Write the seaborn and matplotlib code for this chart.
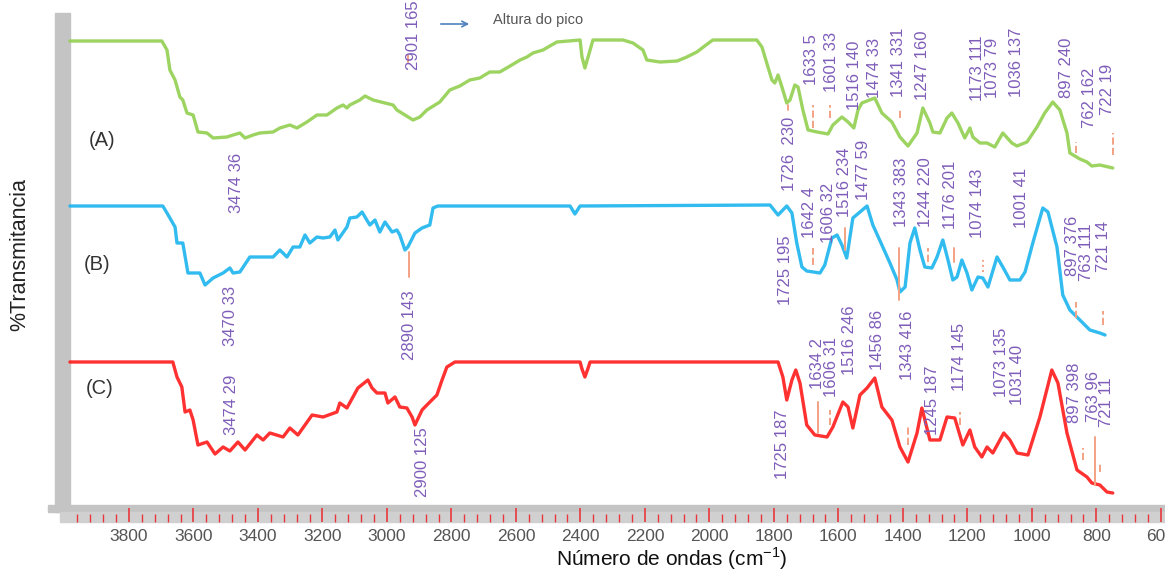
import matplotlib
matplotlib.use("Agg")
import matplotlib.pyplot as plt
import seaborn as sns
import pandas as pd
from matplotlib.patches import Rectangle, FancyArrowPatch
from matplotlib.ticker import MultipleLocator, FuncFormatter

# ---------------- data (wavenumber cm-1, relative transmittance) ----------------
a_wn = [3983, 3698, 3682, 3673, 3657, 3642, 3633, 3620, 3601, 3586, 3558, 3539, 3496, 3477, 3456,
        3440, 3415, 3394, 3353, 3332, 3301, 3279, 3248, 3217, 3186, 3155, 3136, 3124, 3115, 3084,
        3068, 3043, 2981, 2969, 2929, 2919, 2898, 2876, 2836, 2805, 2774, 2743, 2712, 2681, 2650,
        2618, 2587, 2566, 2547, 2516, 2473, 2401, 2395, 2386, 2377, 2361, 2268, 2237, 2206, 2194,
        2153, 2100, 2070, 2039, 1998, 1989, 1853, 1837, 1822, 1806, 1797, 1787, 1775, 1760, 1750,
        1735, 1725, 1710, 1694, 1666, 1632, 1617, 1589, 1570, 1552, 1539, 1527, 1487, 1465, 1434,
        1409, 1384, 1356, 1338, 1316, 1307, 1285, 1263, 1248, 1229, 1208, 1192, 1183, 1161, 1139,
        1115, 1090, 1062, 1046, 1015, 984, 960, 935, 913, 891, 882, 851, 829, 814, 789, 749]
a_t = [467, 467, 458, 438, 428, 411, 408, 395, 393, 376, 375, 370, 371, 373, 375,
       370, 373, 375, 376, 380, 383, 380, 386, 393, 393, 400, 403, 400, 403, 408,
       412, 408, 403, 398, 390, 388, 391, 398, 406, 418, 422, 428, 430, 436, 436,
       442, 448, 451, 455, 458, 466, 468, 451, 440, 450, 468, 468, 465, 458, 448,
       446, 447, 451, 456, 466, 468, 468, 461, 445, 428, 425, 433, 421, 405, 408,
       423, 421, 398, 378, 376, 374, 383, 391, 386, 380, 398, 405, 410, 395, 386,
       371, 362, 375, 400, 385, 376, 375, 390, 395, 385, 370, 380, 371, 365, 365,
       361, 375, 365, 362, 366, 381, 395, 406, 398, 375, 355, 349, 346, 342, 343, 340]

b_wn = [3983, 3695, 3682, 3657, 3651, 3633, 3617, 3601, 3580, 3564, 3539, 3508, 3487, 3477, 3456,
        3425, 3394, 3353, 3332, 3310, 3291, 3270, 3254, 3239, 3217, 3198, 3177, 3161, 3152, 3124,
        3115, 3093, 3077, 3068, 3053, 3037, 3022, 3006, 2984, 2969, 2960, 2944, 2935, 2913, 2891,
        2867, 2857, 2842, 2432, 2417, 2401, 1812, 1787, 1760, 1744, 1729, 1713, 1698, 1657, 1642,
        1620, 1604, 1589, 1574, 1555, 1533, 1511, 1493, 1465, 1440, 1418, 1409, 1393, 1378, 1363,
        1347, 1332, 1310, 1294, 1276, 1260, 1245, 1232, 1217, 1201, 1186, 1167, 1152, 1136, 1108,
        1090, 1068, 1037, 1021, 997, 966, 950, 922, 904, 882, 851, 820, 789, 773]
b_t = [302, 302, 295, 281, 265, 265, 235, 235, 235, 223, 230, 235, 240, 235, 236,
       251, 251, 251, 258, 251, 261, 261, 273, 265, 271, 270, 271, 278, 268, 281,
       290, 291, 296, 291, 283, 288, 276, 286, 276, 278, 273, 258, 261, 275, 280,
       283, 300, 302, 302, 294, 302, 303, 293, 302, 295, 265, 241, 237, 235, 243,
       270, 273, 263, 250, 290, 296, 302, 283, 263, 245, 228, 216, 221, 265, 280,
       258, 241, 240, 251, 268, 248, 228, 231, 248, 235, 218, 231, 230, 221, 251,
       241, 228, 228, 236, 265, 300, 296, 261, 213, 198, 188, 178, 175, 173]

c_wn = [3983, 3664, 3651, 3636, 3626, 3611, 3601, 3586, 3558, 3533, 3508, 3487, 3462, 3440, 3403,
        3384, 3363, 3322, 3301, 3276, 3232, 3198, 3155, 3146, 3124, 3090, 3059, 3046, 3031, 3006,
        2997, 2975, 2960, 2938, 2922, 2913, 2891, 2876, 2845, 2829, 2814, 2789, 2401, 2395, 2386,
        2377, 2370, 1787, 1772, 1760, 1744, 1732, 1719, 1698, 1673, 1635, 1617, 1586, 1570, 1555,
        1533, 1511, 1487, 1465, 1434, 1409, 1384, 1356, 1341, 1316, 1285, 1263, 1239, 1214, 1192,
        1177, 1155, 1139, 1121, 1087, 1068, 1046, 1012, 975, 938, 919, 891, 860, 829, 814, 789,
        767, 749]
c_t = [146, 146, 131, 121, 96, 98, 88, 63, 66, 54, 61, 57, 66, 58, 73,
       68, 75, 71, 80, 73, 93, 91, 96, 105, 100, 120, 128, 120, 115, 115,
       105, 111, 101, 100, 91, 83, 98, 103, 113, 128, 141, 146, 146, 139, 131,
       139, 146, 146, 131, 108, 128, 138, 125, 83, 73, 71, 81, 106, 101, 80,
       113, 120, 130, 101, 88, 61, 46, 75, 100, 68, 68, 91, 90, 63, 78,
       61, 51, 61, 55, 75, 68, 55, 53, 91, 138, 125, 75, 38, 31, 25, 23,
       16, 15]

series_names = ["(A)", "(B)", "(C)"]
series_colors = ["#92D050", "#1CB4EE", "#FF1A1A"]

# peak annotations: text, wavenumber, vertical position
peak_text = ["2901 165", "1633 5", "1601 33", "1516 140", "1474 33", "1341 331", "1247 160",
             "1173 111", "1073 79", "1036 137", "897 240", "762 162", "722 19",
             "3474 36", "1726  230",
             "1642 4", "1606 32", "1516 234", "1477 59", "1343 383", "1244 220", "1176 201",
             "1074 143", "1001 41", "897 376", "763 111", "721 14",
             "3470 33", "2890 143", "1725 195",
             "3474 29", "2900 125", "1725 187", "1634 2", "1606 31", "1516 246", "1456 86",
             "1343 416", "1245 187", "1174 145", "1073 135", "1031 40", "897 398", "763 96",
             "721 11"]
peak_wn = [2916, 1682, 1620, 1549, 1487, 1415, 1338, 1170, 1121, 1046, 891, 820, 764,
           3468, 1750,
           1688, 1629, 1580, 1521, 1403, 1329, 1251, 1167, 1031, 873, 829, 777,
           3484, 2929, 1763,
           3481, 2891, 1772, 1666, 1620, 1564, 1480, 1387, 1307, 1223, 1093, 1043, 869, 810, 767]
peak_y = [473, 448, 446, 433, 440, 446, 443, 440, 440, 446, 440, 410, 419,
          325, 354,
          296, 295, 326, 338, 316, 316, 313, 305, 310, 262, 256, 262,
          192, 183, 238,
          103, 46, 64, 145, 141, 168, 168, 163, 108, 151, 146, 133, 115, 111, 106]

# peak-height markers: wavenumber, y0, y1, style
mark_wn = [2932, 1412, 1580, 1242, 1679, 1322, 1152, 863, 780,
           1663, 804, 1626, 1384, 1223, 842, 789,
           1679, 1626, 1409, 863, 749, 1756, 2935]
mark_y0 = [256, 208, 258, 246, 243, 246, 236, 190, 183,
           75, 23, 83, 63, 83, 48, 36,
           380, 390, 390, 355, 353, 398, 446]
mark_y1 = [231, 260, 280, 260, 260, 260, 248, 206, 197,
           106, 71, 98, 83, 96, 60, 45,
           403, 403, 398, 366, 375, 403, 453]
mark_style = ["-", "-", "-", "-", "--", "--", ":", "--", "--",
              "-", "-", "--", "--", "--", "--", "--",
              "--", "--", "--", "--", "--", "-", "-"]

# ---------------- figure ----------------
sns.set_theme(style="white")
plt.rcParams["font.family"] = ["Liberation Sans", "DejaVu Sans"]

W, H = 1165, 571
fig = plt.figure(figsize=(W / 100, H / 100), dpi=100)
fig.patch.set_facecolor("white")


def fx(px):
    return px / W


def fy(py):
    return 1 - py / H


ax = fig.add_axes([fx(68), fy(522), fx(1165 - 68), (522 - 13) / H])
ax.set_facecolor("none")

frames = []
for name, wn, t in zip(series_names, [a_wn, b_wn, c_wn], [a_t, b_t, c_t]):
    frames.append(pd.DataFrame({"wn": wn, "t": t, "serie": name}))
df = pd.concat(frames, ignore_index=True)

sns.lineplot(data=df, x="wn", y="t", hue="serie", palette=dict(zip(series_names, series_colors)),
             sort=False, estimator=None, linewidth=2.4, alpha=0.9, legend=False, ax=ax)

purple = "#7F5DB9"
for txt, w, y in zip(peak_text, peak_wn, peak_y):
    ax.text(w, y, txt, rotation=90, ha="center", va="center", color=purple, fontsize=12)

for w, y0, y1, st in zip(mark_wn, mark_y0, mark_y1, mark_style):
    ax.plot([w, w], [y0, y1], linestyle=st, color="#F4A283", linewidth=1.4)

ax.set_xlim(3989, 587)
ax.set_ylim(-14, 495)
ax.set_yticks([])
for s in ax.spines.values():
    s.set_visible(False)

ax.xaxis.set_major_locator(MultipleLocator(200))
ax.xaxis.set_minor_locator(MultipleLocator(40))
ax.xaxis.set_major_formatter(FuncFormatter(lambda v, p: f"{int(round(v))}"))
ax.tick_params(axis="x", which="major", direction="in", length=10, width=1.2, color="#E8383D",
               labelsize=12.5, labelcolor="#555555", pad=5, bottom=True)
ax.tick_params(axis="x", which="minor", direction="in", length=6, width=1.0, color="#E8383D",
               bottom=True)
ax.set_xlabel("")
ax.set_ylabel("")

# curve names
for name, px, py in zip(series_names, [102, 97, 100], [140, 265, 388]):
    fig.text(fx(px), fy(py), name, ha="center", va="center", fontsize=14.5, color="#333333")

# gray frame (left wall and floor)
fig.add_artist(Rectangle((fx(55), fy(512)), 15 / W, (512 - 13) / H, transform=fig.transFigure,
                         color="#C4C4C4", zorder=-1))
fig.add_artist(Rectangle((fx(48), fy(512)), (W - 48) / W, 7 / H, transform=fig.transFigure,
                         color="#C4C4C4", zorder=-1))
fig.add_artist(Rectangle((fx(60), fy(522)), (W - 60) / W, 10 / H, transform=fig.transFigure,
                         color="#D0D0D0", zorder=-1))

# axis titles
fig.text(fx(672), fy(559), "Número de ondas (cm$^{\\mathregular{-1}}$)", ha="center", va="center",
         fontsize=15, color="#111111")
fig.text(fx(20), fy(255), "%Transmitancia", rotation=90, ha="center", va="center",
         fontsize=15.5, color="#222222")

# legend note
fig.add_artist(FancyArrowPatch((fx(438), fy(24)), (fx(472), fy(24)), transform=fig.transFigure,
                               arrowstyle="->", mutation_scale=10, color="#4F81BD", linewidth=1.2))
fig.text(fx(493), fy(20), "Altura do pico", ha="left", va="center", fontsize=10.5, color="#555555")

fig.savefig("out.png", dpi=100)
